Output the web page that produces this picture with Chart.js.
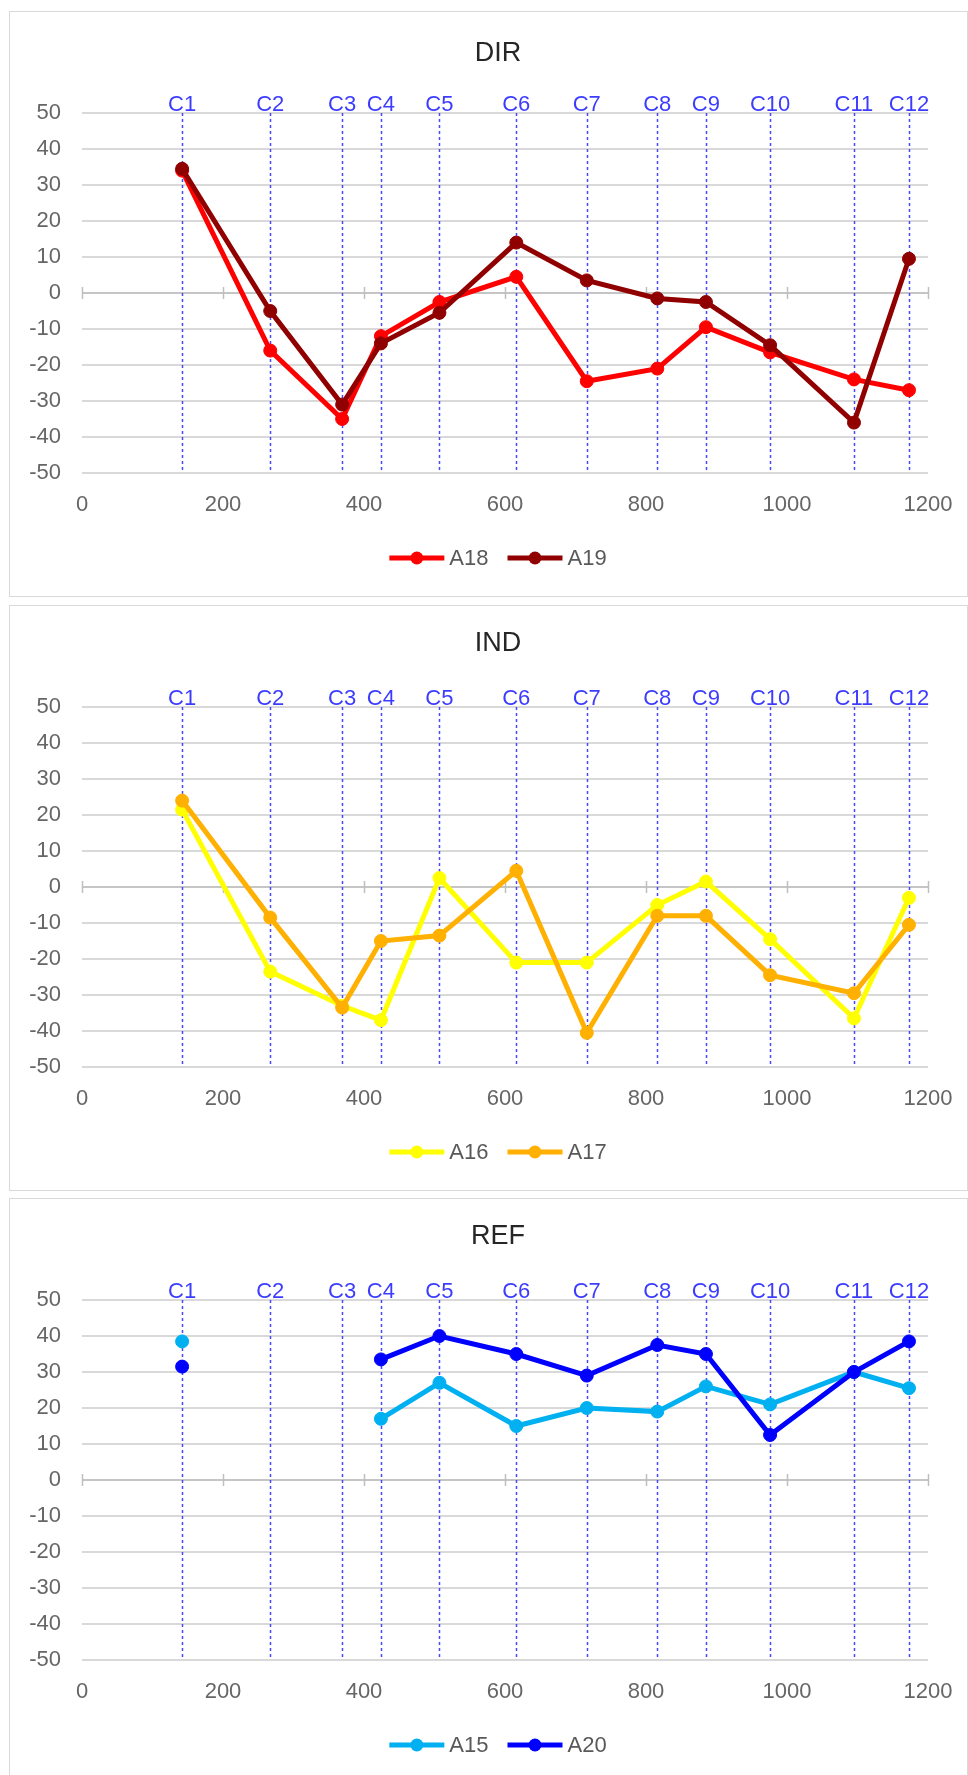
<!DOCTYPE html>
<html>
<head>
<meta charset="utf-8">
<title>DIR / IND / REF</title>
<script src="https://cdn.jsdelivr.net/npm/chart.js@4.4.1/dist/chart.umd.min.js"></script>
<style>
  html, body { margin: 0; padding: 0; background: #fff; overflow: hidden; }
  body { position: relative; width: 968px; height: 1775px; }
  .panel {
    position: absolute; left: 9px; width: 957px; height: 584px;
    border: 1px solid #d9d9d9; background: #fff; overflow: hidden;
  }
  .panel .box { position: absolute; left: 0; top: 0; width: 976px; height: 584px; }
</style>
</head>
<body>
<div class="panel" style="top:11px"><div class="box"><canvas id="dir"></canvas></div></div>
<div class="panel" style="top:605px"><div class="box"><canvas id="ind"></canvas></div></div>
<div class="panel" style="top:1198px"><div class="box"><canvas id="ref"></canvas></div></div>

<script>
// Column positions (x) and their labels
const cLabels = ["C1", "C2", "C3", "C4", "C5", "C6", "C7", "C8", "C9", "C10", "C11", "C12"]
const cPositions = [142, 267, 369, 424, 507, 616, 716, 816, 885, 976, 1095, 1173]

// DIR
const a18 = [34, -16, -35, -12, -2.5, 4.5, -24.5, -21, -9.5, -16.5, -24, -27]
const a19 = [34.5, -5, -31, -14, -5.5, 14, 3.5, -1.5, -2.5, -14.5, -36, 9.5]

// IND
const a16 = [21.5, -23.5, -33, -37, 2.5, -21, -21, -5, 1.5, -14.5, -36.5, -3]
const a17 = [24, -8.5, -33.5, -15, -13.5, 4.5, -40.5, -8, -8, -24.5, -29.5, -10.5]

// REF (no readings at C2, C3)
const a15 = [38.5, null, null, 17, 27, 15, 20, 19, 26, 21, 30, 25.5]
const a20 = [31.5, null, null, 33.5, 40, 35, 29, 37.5, 35, 12.5, 30, 38.5]

const xMin = 0, xMax = 1200, xStep = 200
const yMin = -50, yMax = 50, yStep = 10

const FONT = '"Liberation Sans", Arial, sans-serif'

function series(values) {
  return cPositions.map((x, i) => ({ x, y: values[i] }))
}

function dataset(label, values, color, order) {
  return {
    label,
    data: series(values),
    borderColor: color,
    backgroundColor: color,
    borderWidth: 5,
    pointRadius: 6.5,
    pointHoverRadius: 6.5,
    pointBorderWidth: 1,
    pointBackgroundColor: color,
    pointBorderColor: color,
    spanGaps: false,
    order
  }
}

// Zero axis line with cross ticks, dashed column markers and their labels
const columnLines = {
  id: "columnLines",
  beforeDatasetsDraw(chart) {
    const { ctx, scales: { x, y } } = chart
    const top = y.getPixelForValue(yMax)
    const bottom = y.getPixelForValue(yMin)
    const y0 = y.getPixelForValue(0)
    ctx.save()

    ctx.strokeStyle = "#bfbfbf"
    ctx.lineWidth = 1.5
    ctx.beginPath()
    ctx.moveTo(x.getPixelForValue(xMin), y0)
    ctx.lineTo(x.getPixelForValue(xMax), y0)
    x.ticks.forEach((t) => {
      const px = Math.round(x.getPixelForValue(t.value)) + 0.5
      ctx.moveTo(px, y0 - 6)
      ctx.lineTo(px, y0 + 6)
    })
    ctx.stroke()

    ctx.setLineDash([3, 3])
    ctx.strokeStyle = "#4848ff"
    ctx.lineWidth = 1.5
    ctx.beginPath()
    cPositions.forEach((v) => {
      const px = Math.round(x.getPixelForValue(v)) + 0.5
      ctx.moveTo(px, top)
      ctx.lineTo(px, bottom)
    })
    ctx.stroke()
    ctx.setLineDash([])

    ctx.fillStyle = "#3c3cff"
    ctx.font = "22px " + FONT
    ctx.textAlign = "center"
    ctx.textBaseline = "alphabetic"
    cLabels.forEach((l, i) => ctx.fillText(l, x.getPixelForValue(cPositions[i]), top - 2))
    ctx.restore()
  }
}

// Title and an Excel-like legend (line with a marker in the middle, then the name),
// both centred on the canvas
const titleAndLegend = {
  id: "titleAndLegend",
  afterDraw(chart, args, opts) {
    const { ctx } = chart
    const cx = chart.width / 2
    ctx.save()

    ctx.fillStyle = "#262626"
    ctx.font = "27px " + FONT
    ctx.textAlign = "center"
    ctx.textBaseline = "middle"
    ctx.fillText(opts.text, cx, opts.titleY)

    const sets = chart.data.datasets
    const lineLen = 55, gap = 5, itemGap = 19
    ctx.font = "22px " + FONT
    const widths = sets.map((d) => lineLen + gap + ctx.measureText(d.label).width)
    const total = widths.reduce((a, b) => a + b, 0) + itemGap * (sets.length - 1)
    let left = cx - total / 2
    const cy = 546
    sets.forEach((d, i) => {
      ctx.strokeStyle = d.borderColor
      ctx.lineWidth = 5
      ctx.beginPath()
      ctx.moveTo(left, cy)
      ctx.lineTo(left + lineLen, cy)
      ctx.stroke()
      ctx.fillStyle = d.borderColor
      ctx.beginPath()
      ctx.arc(left + lineLen / 2, cy, 6.5, 0, Math.PI * 2)
      ctx.fill()
      ctx.fillStyle = "#595959"
      ctx.textAlign = "left"
      ctx.textBaseline = "middle"
      ctx.fillText(d.label, left + lineLen + gap, cy + 1)
      left += widths[i] + itemGap
    })
    ctx.restore()
  }
}

function makeChart(id, title, titleY, datasets) {
  return new Chart(document.getElementById(id), {
    type: "line",
    data: { datasets },
    plugins: [columnLines, titleAndLegend],
    options: {
      responsive: true,
      maintainAspectRatio: false,
      animation: false,
      layout: { padding: { left: 0, right: 58, top: 101, bottom: 63 } },
      plugins: {
        legend: { display: false },
        tooltip: { enabled: false },
        title: { display: false },
        titleAndLegend: { text: title, titleY }
      },
      scales: {
        x: {
          type: "linear",
          min: xMin,
          max: xMax,
          afterFit: (scale) => { scale.height = 60 },
          border: { display: false },
          grid: { display: false, drawTicks: false },
          ticks: {
            stepSize: xStep,
            padding: 19,
            color: "#666666",
            font: { family: FONT, size: 22 },
            maxRotation: 0,
            callback: (v) => String(v)
          }
        },
        y: {
          min: yMin,
          max: yMax,
          afterFit: (scale) => { scale.width = 72 },
          border: { display: false },
          grid: { color: "#d9d9d9", lineWidth: 2, drawTicks: false },
          ticks: {
            stepSize: yStep,
            padding: 21,
            color: "#666666",
            font: { family: FONT, size: 22 }
          }
        }
      }
    }
  })
}

makeChart("dir", "DIR", 42, [
  dataset("A18", a18, "#ff0000", 2),
  dataset("A19", a19, "#900000", 1)
])

makeChart("ind", "IND", 38, [
  dataset("A16", a16, "#ffff00", 2),
  dataset("A17", a17, "#ffb000", 1)
])

makeChart("ref", "REF", 38, [
  dataset("A15", a15, "#00b0f0", 2),
  dataset("A20", a20, "#0000ff", 1)
])
</script>
</body>
</html>
